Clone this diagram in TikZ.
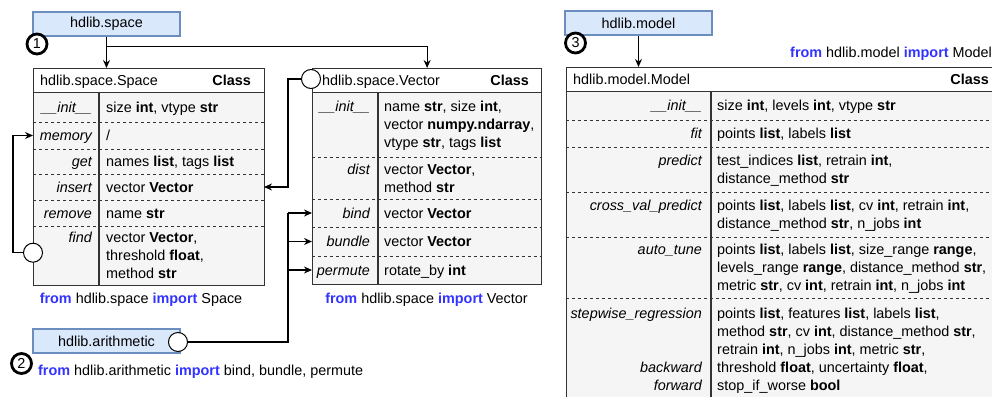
\documentclass[tikz,border=0pt]{standalone}
\usepackage{fontspec}
\setmainfont{Liberation Sans}
\usetikzlibrary{arrows.meta}
\definecolor{tabfill}{HTML}{DAE8FC}
\definecolor{tabborder}{HTML}{6C8EBF}
\definecolor{bodyfill}{HTML}{F5F5F5}
\definecolor{tblborder}{HTML}{333333}
\definecolor{kw}{HTML}{3333FF}
\newcommand\kwd[1]{\textcolor{kw}{\textbf{#1}}}
\newcommand\ml[1]{\begin{tabular}[t]{@{}l@{}}#1\end{tabular}}
\tikzset{
  tabbox/.style={draw=tabborder, fill=tabfill, line width=2.8pt, minimum width=147, minimum height=24, inner sep=0},
  numc/.style={circle, draw=black, line width=2.8pt, fill=white, minimum size=20, inner sep=0},
  port/.style={circle, draw=black, line width=1pt, fill=white, minimum size=19, inner sep=0},
  hdr/.style={draw=tblborder, fill=white, line width=1.2pt, anchor=north west, inner sep=0},
  body/.style={draw=tblborder, fill=bodyfill, line width=1.2pt, anchor=north west, inner sep=0},
  sep/.style={draw=tblborder, line width=0.9pt, dash pattern=on 3pt off 3pt},
  divl/.style={draw=tblborder, line width=1.2pt},
  lbl/.style={anchor=base east, inner sep=0, font=\fontsize{14.4}{18}\selectfont\itshape},
  val/.style={anchor=base west, inner sep=0},
  conn/.style={line width=1.2pt, -{Stealth[length=8pt,width=7pt]}},
  wire/.style={line width=1.2pt},
}
\begin{document}
\begin{tikzpicture}[x=1pt,y=-1pt, every node/.append style={font=\fontsize{14.4}{18}\selectfont}]
\useasboundingbox (0,0) rectangle (992,396);
\clip (0,0) rectangle (992,396);

% ---------------- hdlib.space tab ----------------
\node[tabbox] (tabSpace) at (106.5,24) {hdlib.space};
\node[numc] (n1) at (37,44) {1};

% ---------------- Space class ----------------
\node[hdr, minimum width=231, minimum height=24] (spH) at (33,68) {};
\node[body, minimum width=231, minimum height=193] (spB) at (33,92) {};
\node[val] (spTitle) at (40,85) {hdlib.space.Space};
\node[anchor=base east, inner sep=0] (spCls) at (251,85) {\textbf{Class}};
\draw[divl] (99,92) -- (99,285);
\foreach \yy in {122,149,174,200,226} \draw[sep] (33,\yy) -- (264,\yy);
\node[lbl] (spL1) at (92,112) {\_\_init\_\_};
\node[val] (spV1) at (106,112) {size \textbf{int}, vtype \textbf{str}};
\node[lbl] (spL2) at (92,140.5) {memory};
\node[val] (spV2) at (106,140.5) {/};
\node[lbl] (spL3) at (92,166.5) {get};
\node[val] (spV3) at (106,166.5) {names \textbf{list}, tags \textbf{list}};
\node[lbl] (spL4) at (92,192) {insert};
\node[val] (spV4) at (106,192) {vector \textbf{Vector}};
\node[lbl] (spL5) at (92,218) {remove};
\node[val] (spV5) at (106,218) {name \textbf{str}};
\node[lbl] (spL6) at (92,242.5) {find};
\node[val] (spV6) at (106,242.5) {\ml{vector \textbf{Vector},\\ threshold \textbf{float},\\ method \textbf{str}}};
\node (spImp) at (141,300) {\kwd{from} hdlib.space \kwd{import} Space};
\node[port] (spPort) at (33,252.7) {};
\coordinate (spMem) at (33,135.5);
\coordinate (spIns) at (264,187);
\coordinate (loopX) at (13,0);

% ---------------- Vector class ----------------
\node[hdr, minimum width=229, minimum height=24] (vcH) at (312,68) {};
\node[body, minimum width=229, minimum height=192] (vcB) at (312,92) {};
\node[val] (vcTitle) at (322,85) {hdlib.space.Vector};
\node[anchor=base east, inner sep=0] (vcCls) at (529,85) {\textbf{Class}};
\draw[divl] (378,92) -- (378,284);
\foreach \yy in {157,199,227,256} \draw[sep] (312,\yy) -- (541,\yy);
\node[lbl] (vcL1) at (370,111.5) {\_\_init\_\_};
\node[val] (vcV1) at (384,111.5) {\ml{name \textbf{str}, size \textbf{int},\\ vector \textbf{numpy.ndarray},\\ vtype \textbf{str}, tags \textbf{list}}};
\node[lbl] (vcL2) at (370,174) {dist};
\node[val] (vcV2) at (384,174) {\ml{vector \textbf{Vector},\\ method \textbf{str}}};
\node[lbl] (vcL3) at (370,218) {bind};
\node[val] (vcV3) at (384,218) {vector \textbf{Vector}};
\node[lbl] (vcL4) at (370,246.5) {bundle};
\node[val] (vcV4) at (384,246.5) {vector \textbf{Vector}};
\node[lbl] (vcL5) at (370,275) {permute};
\node[val] (vcV5) at (384,275) {rotate\_by \textbf{int}};
\node (vcImp) at (426.5,300) {\kwd{from} hdlib.space \kwd{import} Vector};
\node[port] (vcPort) at (311,79) {};
\coordinate (vcBind) at (312,213);
\coordinate (vcBundle) at (312,241.5);
\coordinate (vcPerm) at (312,270);
\coordinate (busX) at (288,0);

% ---------------- hdlib.arithmetic ----------------
\node[tabbox] (tabArith) at (106.5,341) {hdlib.arithmetic};
\node[port] (arPort) at (178,342) {};
\node[numc] (n2) at (21.5,363.5) {2};
\node[anchor=base west, inner sep=0] (arImp) at (38,375) {\kwd{from} hdlib.arithmetic \kwd{import} bind, bundle, permute};

% ---------------- hdlib.model ----------------
\node[tabbox] (tabModel) at (638.5,23) {hdlib.model};
\node[numc] (n3) at (575.5,43) {3};
\node[anchor=base west, inner sep=0] (mdImp) at (790,58) {\kwd{from} hdlib.model \kwd{import} Model};
\node[hdr, minimum width=435, minimum height=24] (mdH) at (566,67) {};
\node[body, minimum width=435, minimum height=309] (mdB) at (566,91) {};
\node[val] (mdTitle) at (573,84) {hdlib.model.Model};
\node[anchor=base east, inner sep=0] (mdCls) at (989,84) {\textbf{Class}};
\draw[divl] (711,91) -- (711,400);
\foreach \yy in {120,147,192,237,298} \draw[sep] (566,\yy) -- (1001,\yy);
\node[lbl] (mdL1) at (702,110.5) {\_\_init\_\_};
\node[val] (mdV1) at (717,110.5) {size \textbf{int}, levels \textbf{int}, vtype \textbf{str}};
\node[lbl] (mdL2) at (702,138.5) {fit};
\node[val] (mdV2) at (717,138.5) {points \textbf{list}, labels \textbf{list}};
\node[lbl] (mdL3) at (702,165.5) {predict};
\node[val] (mdV3) at (717,165.5) {\ml{test\_indices \textbf{list}, retrain \textbf{int},\\ distance\_method \textbf{str}}};
\node[lbl] (mdL4) at (702,210.5) {cross\_val\_predict};
\node[val] (mdV4) at (717,210.5) {\ml{points \textbf{list}, labels \textbf{list}, cv \textbf{int}, retrain \textbf{int},\\ distance\_method \textbf{str}, n\_jobs \textbf{int}}};
\node[lbl] (mdL5) at (702,254.5) {auto\_tune};
\node[val] (mdV5) at (717,254.5) {\ml{points \textbf{list}, labels \textbf{list}, size\_range \textbf{range},\\ levels\_range \textbf{range}, distance\_method \textbf{str},\\ metric \textbf{str}, cv \textbf{int}, retrain \textbf{int}, n\_jobs \textbf{int}}};
\node[lbl] (mdL6) at (702,318) {stepwise\_regression};
\node[lbl] (mdL7) at (702,372) {backward};
\node[lbl] (mdL8) at (702,390) {forward};
\node[val] (mdV6) at (717,318) {\ml{points \textbf{list}, features \textbf{list}, labels \textbf{list},\\ method \textbf{str}, cv \textbf{int}, distance\_method \textbf{str},\\ retrain \textbf{int}, n\_jobs \textbf{int}, metric \textbf{str},\\ threshold \textbf{float}, uncertainty \textbf{float},\\ stop\_if\_worse \textbf{bool}}};

% ---------------- connectors ----------------
\coordinate (j1) at (106.5,46.5);
\draw[conn] (tabSpace.south) -- (tabSpace.south |- spH.north);
\draw[conn] (j1) -| (vcH.north);
\draw[conn] (spPort.west) -- (spPort.west -| loopX) |- (spMem);
\draw[conn] (vcPort.west) -- (vcPort.west -| busX) |- (spIns);
\draw[wire] (arPort.east) -- (arPort.east -| busX) -- (busX |- vcBind);
\draw[conn] (busX |- vcBind) -- (vcBind);
\draw[conn] (busX |- vcBundle) -- (vcBundle);
\draw[conn] (busX |- vcPerm) -- (vcPerm);
\draw[conn] (tabModel.south) -- (tabModel.south |- mdH.north);
\end{tikzpicture}
\end{document}
